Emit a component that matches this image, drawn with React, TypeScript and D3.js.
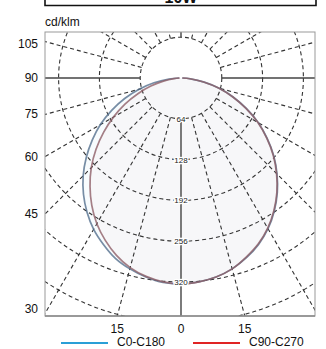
import React from "react";
import * as d3 from "d3";

const title = "10W";
const unitLabel = "cd/klm";
const angles = [0, 5, 10, 15, 20, 25, 30, 35, 40, 45, 50, 55, 60, 65, 70, 75, 80, 85, 90];
// C0-C180 (blue): right half C0, left half C180
const c0 = [323, 321, 317, 310, 300, 288, 273, 255, 235, 213, 190, 165, 140, 113, 87, 62, 37, 15, 2];
const c180 = [323, 322, 317, 310, 301, 288, 274, 257, 238, 217, 194, 170, 146, 120, 94, 68, 43, 19, 3];
// C90-C270 (red): right half C90, left half C270
const c90 = [323, 321, 317, 310, 299, 287, 272, 254, 234, 212, 189, 164, 139, 112, 86, 61, 36, 14, 2];
const c270 = [323, 321, 316, 308, 296, 281, 264, 244, 222, 199, 174, 148, 122, 97, 72, 49, 28, 11, 2];
const ringValues = [64, 128, 192, 256, 320, 384, 448];
const ringLabels = [64, 128, 192, 256, 320];
const leftAngleLabels = [105, 90, 75, 60, 45, 30];
const bottomAngleLabels = [15, 0, 15];
const bottomAngleSigned = [-15, 0, 15];
const seriesNames = ["C0-C180", "C90-C270"];
const seriesColors = ["#2a9fd6", "#e02424"];

const W = 326, H = 349;
const box = { x0: 45, x1: 315, y0: 32, y1: 316 };
const cx = 181, cy = 78;
const FONT = "'Liberation Sans', Arial, Helvetica, sans-serif";

export default function App() {
  const r = d3.scaleLinear().domain([0, 320]).range([0, 204]);
  const toRad = (a: number) => (a * Math.PI) / 180;

  const half = (vals: number[], side: number) =>
    angles.map((a, i) => {
      const rr = r(vals[i]);
      return [cx + side * rr * Math.sin(toRad(a)), cy + rr * Math.cos(toRad(a))] as [number, number];
    });
  const curve = (right: number[], left: number[]) => {
    const pts = [...half(left, -1).reverse(), ...half(right, 1).slice(1)];
    return d3.line().curve(d3.curveCatmullRom)(pts) as string;
  };
  const bluePath = curve(c0, c180);
  const redPath = curve(c90, c270);

  const radials = d3.range(-180, 180, 15);
  const rStart = r(ringValues[0]);

  return (
    <svg width={W} height={H} style={{ position: "absolute", left: 0, top: 0, background: "#fff" }} fontFamily={FONT}>
      <defs>
        <clipPath id="plotclip">
          <rect x={box.x0} y={box.y0} width={box.x1 - box.x0} height={box.y1 - box.y0} />
        </clipPath>
      </defs>
      {/* title box */}
      <text x={181} y={3} textAnchor="middle" fontSize={16} fontWeight="bold" fill="#111">{title}</text>
      <path d={`M${box.x0},0 V5.5 H${box.x1 + 1} V0`} fill="none" stroke="#111" strokeWidth={1.6} />
      <text x={box.x0} y={26} fontSize={12} fill="#111">{unitLabel}</text>

      <rect x={box.x0} y={box.y0} width={box.x1 - box.x0} height={box.y1 - box.y0} fill="#fff" />
      <g clipPath="url(#plotclip)">
        <path d={bluePath} fill="#2a9fd6" fillOpacity={0.03} stroke="none" />
        <path d={redPath} fill="#e02424" fillOpacity={0.025} stroke="none" />
        {ringValues.map((v) => (
          <circle key={v} cx={cx} cy={cy} r={r(v)} fill="none" stroke="#333" strokeWidth={1.1} strokeDasharray="4,3" />
        ))}
        {radials.map((a) => {
          const solid = a % 90 === 0;
          const dx = Math.sin(toRad(a)), dy = Math.cos(toRad(a));
          return (
            <line key={a} x1={cx + rStart * dx} y1={cy + rStart * dy} x2={cx + 500 * dx} y2={cy + 500 * dy}
              stroke={solid ? "#444" : "#333"} strokeWidth={solid ? 1.4 : 1.1} strokeDasharray={solid ? undefined : "4,3"} />
          );
        })}
        <path d={bluePath} fill="none" stroke="#55708f" strokeOpacity={0.8} strokeWidth={1.7} />
        <path d={redPath} fill="none" stroke="#8f5f68" strokeOpacity={0.8} strokeWidth={1.7} />
        {ringLabels.map((v) => (
          <text key={v} x={cx} y={cy + r(v) + 3} textAnchor="middle" fontSize={8} fill="#222"
            stroke="#fff" strokeWidth={2.5} paintOrder="stroke">{v}</text>
        ))}
      </g>
      <rect x={box.x0} y={box.y0} width={box.x1 - box.x0} height={box.y1 - box.y0} fill="none" stroke="#999" strokeWidth={1} />
      <line x1={box.x0} x2={box.x1} y1={box.y1} y2={box.y1} stroke="#888" strokeWidth={1.5} />

      {leftAngleLabels.map((a) => {
        const y = cy + (cx - box.x0) / Math.tan(toRad(a));
        const yy = Math.max(44, Math.min(309, y));
        return <text key={a} x={38} y={yy + 4} textAnchor="end" fontSize={12} fill="#111">{a}</text>;
      })}
      {bottomAngleLabels.map((a, i) => {
        const x = cx + (box.y1 - cy) * Math.tan(toRad(bottomAngleSigned[i]));
        return <text key={i} x={x} y={333} textAnchor="middle" fontSize={12} fill="#111">{a}</text>;
      })}
      {seriesNames.map((n, i) => {
        const lx = [61, 193][i];
        return (
          <g key={n}>
            <line x1={lx} x2={lx + 47} y1={343} y2={343} stroke={seriesColors[i]} strokeWidth={2} />
            <text x={lx + 56} y={346} fontSize={12} fill="#111">{n}</text>
          </g>
        );
      })}
    </svg>
  );
}
